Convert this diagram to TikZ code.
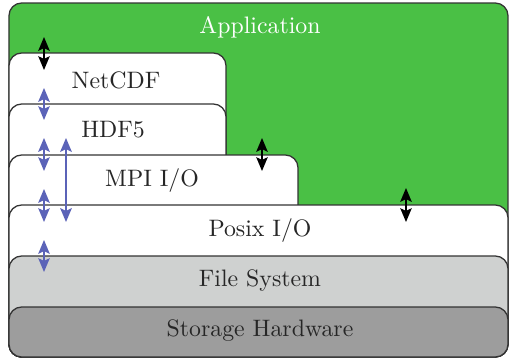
\documentclass[tikz,border=0pt]{standalone}
\usetikzlibrary{arrows.meta}
\definecolor{appgreen}{HTML}{4AC045}
\definecolor{fsgray}{HTML}{CFD1D0}
\definecolor{hwgray}{HTML}{9D9D9D}
\definecolor{arrblue}{HTML}{5B63B8}
\definecolor{edge}{HTML}{333333}
\tikzset{
  layer/.style={draw=edge, line width=0.55pt, rounded corners=5.5pt},
  lbl/.style={inner sep=0pt, font=\fontsize{10.35}{12.4}\selectfont, text=black!85},
  biarrow/.style={{Stealth[length=6pt,width=5pt,inset=1.2pt]}-{Stealth[length=6pt,width=5pt,inset=1.2pt]}, line width=0.6pt},
}
\begin{document}
\begin{tikzpicture}[x=0.4348pt,y=-0.4348pt]
\useasboundingbox (0,0) rectangle (509,358);
% layers
\draw[layer, fill=appgreen] (9,3) rectangle (508,357);
\draw[layer, fill=white] (9,53) rectangle (226,357);
\draw[layer, fill=white] (9,104) rectangle (226,357);
\draw[layer, fill=white] (9,155) rectangle (298,357);
\draw[layer, fill=white] (9,205) rectangle (508,357);
\draw[layer, fill=fsgray] (9,256) rectangle (508,357);
\draw[layer, fill=hwgray] (9,307) rectangle (508,357);
% labels
\node[lbl, text=white] (app) at (260,27) {Application};
\node[lbl] (netcdf) at (116,80) {NetCDF};
\node[lbl] (hdf) at (113,130) {HDF5};
\node[lbl] (mpi) at (152,181) {MPI I/O};
\node[lbl] (posix) at (260,231) {Posix I/O};
\node[lbl] (fs) at (260,281) {File System};
\node[lbl] (hw) at (260,331) {Storage Hardware};
% arrow ends
\coordinate (a1t) at (44,37);  \coordinate (a1b) at (44,70);
\coordinate (b1t) at (44,88);  \coordinate (b1b) at (44,120);
\coordinate (b2t) at (44,138); \coordinate (b2b) at (44,171);
\coordinate (b3t) at (44,189); \coordinate (b3b) at (44,222);
\coordinate (b4t) at (44,240); \coordinate (b4b) at (44,272);
\coordinate (ltop) at (66,138); \coordinate (lbot) at (66,222);
\coordinate (c1t) at (262,138); \coordinate (c1b) at (262,171);
\coordinate (c2t) at (406,188); \coordinate (c2b) at (406,222);
% arrows
\draw[biarrow, black] (a1t) -- (a1b);
\draw[biarrow, black] (c1t) -- (c1b);
\draw[biarrow, black] (c2t) -- (c2b);
\draw[biarrow, arrblue] (b1t) -- (b1b);
\draw[biarrow, arrblue] (b2t) -- (b2b);
\draw[biarrow, arrblue] (b3t) -- (b3b);
\draw[biarrow, arrblue] (b4t) -- (b4b);
\draw[biarrow, arrblue, line width=1pt] (ltop) -- (lbot);
\end{tikzpicture}
\end{document}
